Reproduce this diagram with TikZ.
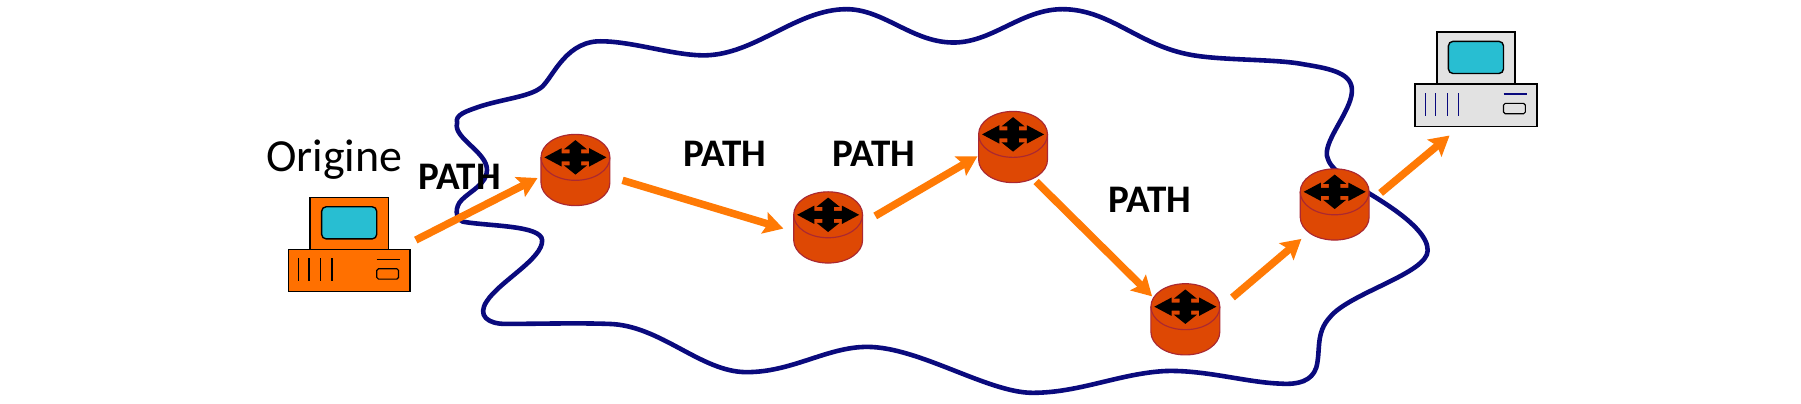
\documentclass[tikz,border=0pt]{standalone}
\usepackage{fontspec}
\setmainfont{Carlito}
\usetikzlibrary{arrows.meta}
\definecolor{routerfill}{RGB}{222,72,4}
\definecolor{routerline}{RGB}{170,40,50}
\definecolor{hostorange}{RGB}{255,112,0}
\definecolor{hostgrey}{RGB}{226,226,226}
\definecolor{screenblue}{RGB}{40,190,210}
\definecolor{cloudblue}{RGB}{10,10,125}
\definecolor{darrow}{RGB}{255,122,5}
\tikzset{
  x=1pt,y=-1pt,
  pathlabel/.style={font=\bfseries\fontsize{34}{34}\selectfont, inner sep=0, outer sep=0},
  pathstep/.style={draw=darrow, line width=6.5pt, -{Stealth[length=17pt,width=19pt,inset=3pt]}},
  pics/routerbody/.style={code={
    \draw[fill=routerfill, draw=routerline, line width=1pt] (-30,-11)
      .. controls (-30,-22) and (-17,-31) .. (0,-31)
      .. controls (17,-31) and (30,-22) .. (30,-11)
      -- (30,11) .. controls (30,22) and (17,31) .. (0,31)
      .. controls (-17,31) and (-30,22) .. (-30,11) -- cycle;
    \draw[routerline, line width=1pt] (-30,-11)
      .. controls (-30,0) and (-17,9) .. (0,9)
      .. controls (17,9) and (30,0) .. (30,-11);
    \fill[black] (-27,-11) -- (-12,-19) -- (-12,-14.5) -- (-5,-14.5) -- (-5,-18) -- (-10,-18)
      -- (0,-26) -- (10,-18) -- (5,-18) -- (5,-14.5) -- (12,-14.5) -- (12,-19)
      -- (27,-11) -- (12,-3) -- (12,-7.5) -- (5,-7.5) -- (5,-4) -- (10,-4)
      -- (0,4) -- (-10,-4) -- (-5,-4) -- (-5,-7.5) -- (-12,-7.5) -- (-12,-3) -- cycle;
  }},
  pics/hostbox/.style 2 args={code={
    \draw[fill=#1, line width=1.2pt] (-34,-40) rectangle (34,5);
    \draw[fill=screenblue, line width=1.2pt, rounded corners=4pt] (-24,-32) rectangle (24,-4);
    \draw[fill=#1, line width=1.2pt] (-53,5) rectangle (53,42);
    \foreach \xi in {-44,-35,-25,-15} \draw[#2, line width=1pt] (\xi,13) -- (\xi,33);
    \draw[#2, line width=1.4pt] (24,14) -- (44,14);
    \draw[line width=1pt, rounded corners=1.5pt] (24,22) rectangle (43,31);
  }}
}
\begin{document}
\begin{tikzpicture}
  \useasboundingbox (0,0) rectangle (1568,351);
  \fill[white] (0,0) rectangle (1568,351);

  % wavy network outline
  \draw[cloudblue, line width=4pt, line join=round]
    (398,107) .. controls (396,100) and (405,97) .. (420,92)
    .. controls (440,86) and (460,84) .. (470,77)
    .. controls (480,71) and (490,38) .. (520,36)
    .. controls (550,35) and (590,50) .. (618,48)
    .. controls (660,45) and (695,8) .. (737,8)
    .. controls (770,8) and (795,38) .. (832,37)
    .. controls (865,36) and (890,8) .. (925,8)
    .. controls (965,8) and (990,38) .. (1033,47)
    .. controls (1060,53) and (1110,51) .. (1135,56)
    .. controls (1160,60) and (1178,64) .. (1177,80)
    .. controls (1176,98) and (1150,125) .. (1156,138)
    .. controls (1158,145) and (1165,150) .. (1175,158)
    .. controls (1190,168) and (1243,195) .. (1243,218)
    .. controls (1243,238) and (1175,255) .. (1158,276)
    .. controls (1145,290) and (1150,305) .. (1146,320)
    .. controls (1142,332) and (1130,335) .. (1115,334)
    .. controls (1085,333) and (1050,322) .. (1015,323)
    .. controls (975,325) and (940,342) .. (899,342)
    .. controls (860,342) and (800,302) .. (755,302)
    .. controls (720,302) and (690,324) .. (650,324)
    .. controls (610,324) and (575,283) .. (530,282)
    .. controls (500,281) and (470,282) .. (440,282)
    .. controls (425,282) and (415,275) .. (424,262)
    .. controls (435,245) and (473,225) .. (472,209)
    .. controls (471,196) and (425,197) .. (403,193)
    .. controls (396,190) and (396,180) .. (402,174)
    .. controls (410,166) and (424,160) .. (424,148)
    .. controls (424,132) and (394,120) .. (398,107) -- cycle;

  \pic (hostA) at (304,212) {hostbox={hostorange}{black}};
  \pic (hostB) at (1285,68) {hostbox={hostgrey}{cloudblue}};

  \pic (rone) at (501,148) {routerbody};
  \pic (rtwo) at (721,198) {routerbody};
  \pic (rthree) at (882,128) {routerbody};
  \pic (rfour) at (1032,278) {routerbody};
  \pic (rfive) at (1162,178) {routerbody};

  \node[font=\fontsize{40}{40}\selectfont, inner sep=0] (origine) at (291,139) {Origine};
  \node[pathlabel] (pathA) at (400,154) {PATH};
  \node[pathlabel] (pathB) at (631,134) {PATH};
  \node[pathlabel] (pathC) at (761,134) {PATH};
  \node[pathlabel] (pathD) at (1001,174) {PATH};

  \coordinate (sA) at (362,209); \coordinate (eA) at (468,155);
  \coordinate (sB) at (542,157); \coordinate (eB) at (682,199);
  \coordinate (sC) at (762,188); \coordinate (eC) at (851,136);
  \coordinate (sD) at (902,158); \coordinate (eD) at (1003,258);
  \coordinate (sE) at (1073,259); \coordinate (eE) at (1133,208);
  \coordinate (sF) at (1202,168); \coordinate (eF) at (1262,118);
  \foreach \s/\e in {sA/eA,sB/eB,sC/eC,sD/eD,sE/eE,sF/eF}
    \draw[pathstep] (\s) -- (\e);
\end{tikzpicture}
\end{document}
